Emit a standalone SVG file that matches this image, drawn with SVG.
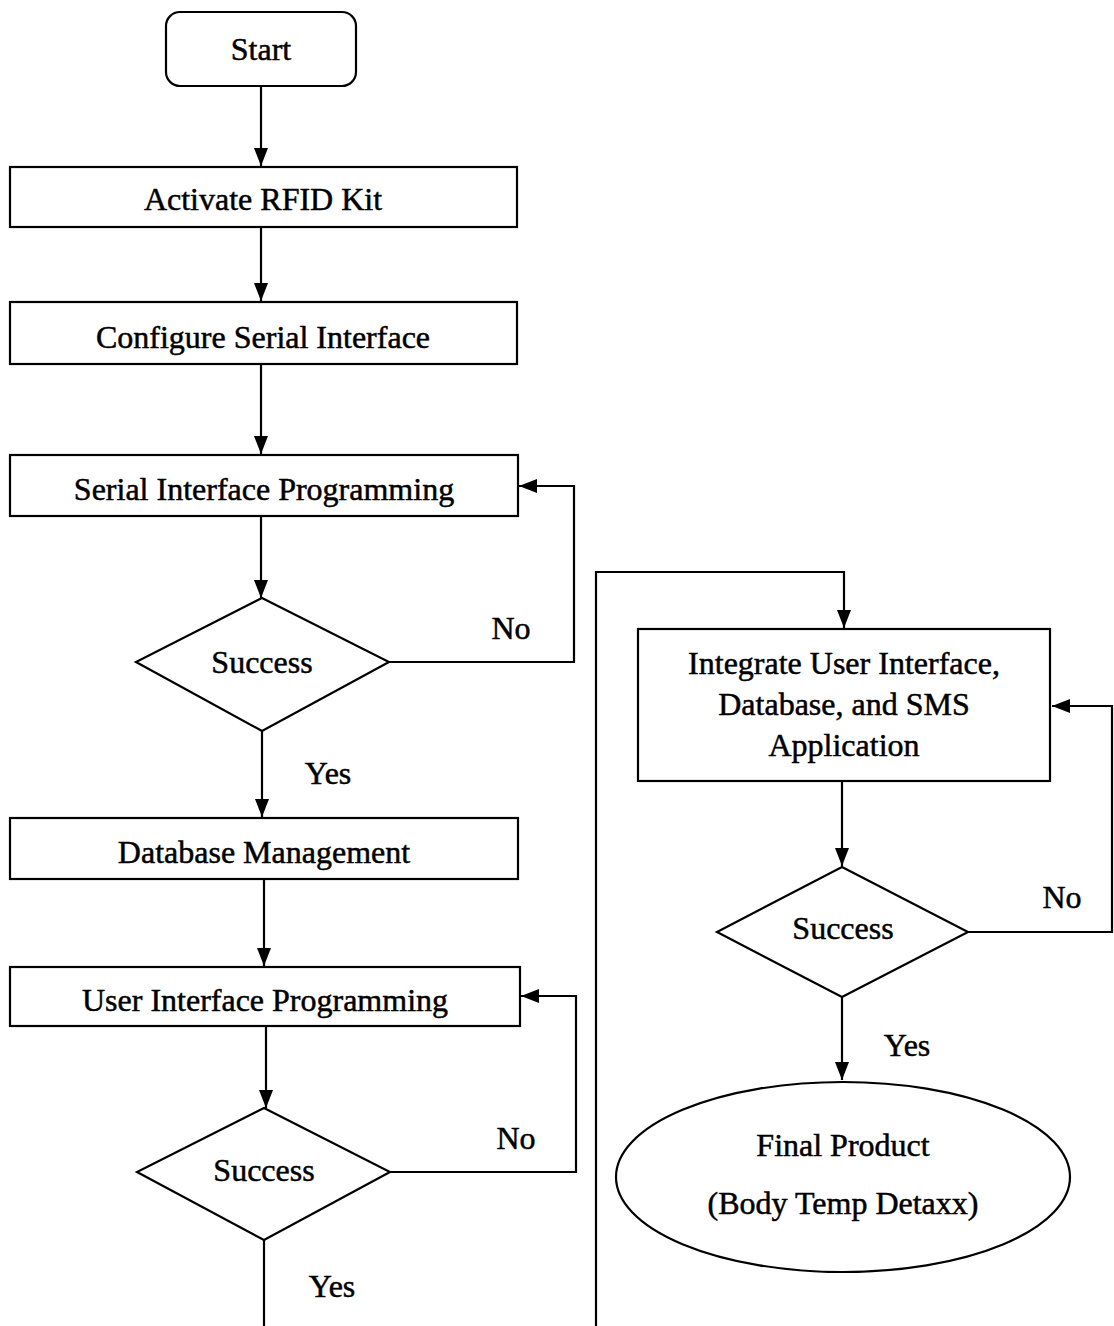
<svg xmlns="http://www.w3.org/2000/svg" width="1114" height="1326" viewBox="0 0 1114 1326">
<defs>
<marker id="ah" markerWidth="18" markerHeight="14" refX="18" refY="7" orient="auto" markerUnits="userSpaceOnUse">
<path d="M0,0 L18,7 L0,14 Z" fill="#000"/>
</marker>
<style>
.box{fill:#fff;stroke:#000;stroke-width:2.2}
.ln{fill:none;stroke:#000;stroke-width:2.2}
.t{font-family:"Liberation Serif","Times New Roman",serif;font-size:32px;fill:#000;stroke:#000;stroke-width:0.5;text-anchor:middle}
</style>
</defs>
<rect width="1114" height="1326" fill="#fff"/>
<g id="connectors">
<line class="ln" x1="261" y1="86" x2="261" y2="166" marker-end="url(#ah)"/>
<line class="ln" x1="261" y1="227" x2="261" y2="301" marker-end="url(#ah)"/>
<line class="ln" x1="261" y1="364" x2="261" y2="454" marker-end="url(#ah)"/>
<line class="ln" x1="261" y1="516" x2="261" y2="598" marker-end="url(#ah)"/>
<polyline class="ln" points="389,662 574,662 574,486 519,486" marker-end="url(#ah)"/>
<line class="ln" x1="262" y1="731" x2="262" y2="817" marker-end="url(#ah)"/>
<line class="ln" x1="264" y1="879" x2="264" y2="966" marker-end="url(#ah)"/>
<line class="ln" x1="266" y1="1026" x2="266" y2="1108" marker-end="url(#ah)"/>
<polyline class="ln" points="390,1172 576,1172 576,996 521,996" marker-end="url(#ah)"/>
<line class="ln" x1="264" y1="1240" x2="264" y2="1326"/>
<polyline class="ln" points="596,1326 596,572 844,572 844,628" marker-end="url(#ah)"/>
<line class="ln" x1="842" y1="781" x2="842" y2="866" marker-end="url(#ah)"/>
<polyline class="ln" points="968,932 1112,932 1112,706 1052,706" marker-end="url(#ah)"/>
<line class="ln" x1="842" y1="997" x2="842" y2="1080" marker-end="url(#ah)"/>
<text class="t" x="511" y="639">No</text>
<text class="t" x="328" y="784">Yes</text>
<text class="t" x="516" y="1149">No</text>
<text class="t" x="332" y="1297">Yes</text>
<text class="t" x="1062" y="908">No</text>
<text class="t" x="907" y="1056">Yes</text>
</g>
<g id="start">
<rect class="box" x="166" y="12" width="190" height="74" rx="14"/>
<text class="t" x="261" y="60">Start</text>
</g>
<g id="activate">
<rect class="box" x="10" y="167" width="507" height="60"/>
<text class="t" x="263" y="210">Activate RFID Kit</text>
</g>
<g id="configure">
<rect class="box" x="10" y="302" width="507" height="62"/>
<text class="t" x="263" y="348">Configure Serial Interface</text>
</g>
<g id="serialprog">
<rect class="box" x="10" y="455" width="508" height="61"/>
<text class="t" x="264" y="500">Serial Interface Programming</text>
</g>
<g id="success1">
<polygon class="box" points="262,598 389,662 262,731 136,662"/>
<text class="t" x="262" y="673">Success</text>
</g>
<g id="database">
<rect class="box" x="10" y="818" width="508" height="61"/>
<text class="t" x="264" y="863">Database Management</text>
</g>
<g id="uiprog">
<rect class="box" x="10" y="967" width="510" height="59"/>
<text class="t" x="265" y="1011">User Interface Programming</text>
</g>
<g id="success2">
<polygon class="box" points="264,1108 390,1172 264,1240 137,1172"/>
<text class="t" x="264" y="1181">Success</text>
</g>
<g id="integrate">
<rect class="box" x="638" y="629" width="412" height="152"/>
<text class="t" x="844" y="674">Integrate User Interface,</text>
<text class="t" x="844" y="715">Database, and SMS</text>
<text class="t" x="844" y="756">Application</text>
</g>
<g id="success3">
<polygon class="box" points="842,867 968,932 842,997 717,932"/>
<text class="t" x="843" y="939">Success</text>
</g>
<g id="final">
<ellipse class="box" cx="843" cy="1177" rx="227" ry="95"/>
<text class="t" x="843" y="1156">Final Product</text>
<text class="t" x="843" y="1214">(Body Temp Detaxx)</text>
</g>
</svg>
